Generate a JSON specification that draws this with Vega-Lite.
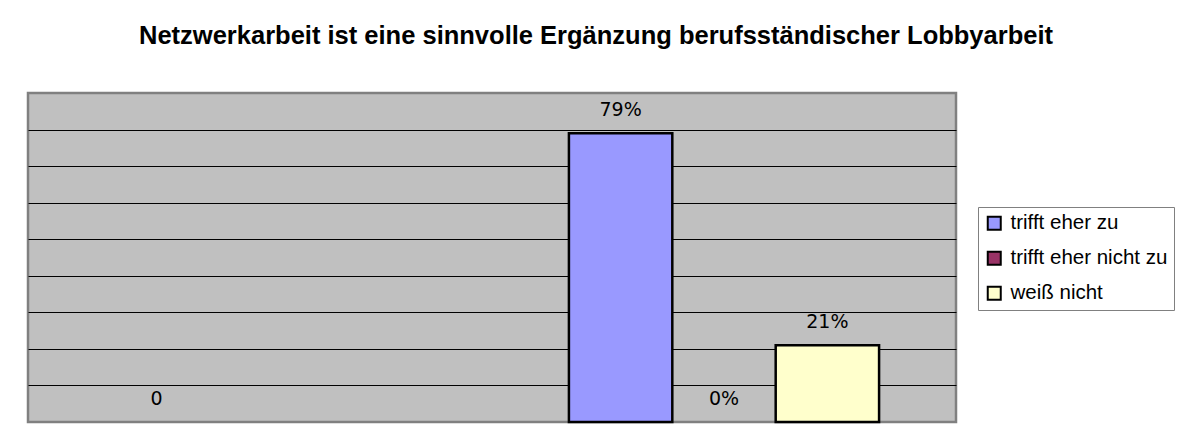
{
  "$schema": "https://vega.github.io/schema/vega-lite/v6.json",
  "autosize": "none",
  "width": 928,
  "height": 329,
  "padding": {"left": 28, "top": 93, "right": 230, "bottom": 18},
  "background": "white",
  "title": {
    "text": "Netzwerkarbeit ist eine sinnvolle Ergänzung berufsständischer Lobbyarbeit",
    "font": "Liberation Sans",
    "fontSize": 25.5,
    "fontWeight": "bold",
    "color": "black",
    "anchor": "middle",
    "frame": "group",
    "dx": 104,
    "baseline": "alphabetic",
    "offset": 24
  },
  "data": {
    "values": [
      {"kategorie": "1", "antwort": "trifft eher zu", "anteil": 0, "label": "0"},
      {"kategorie": "2", "antwort": "trifft eher zu", "anteil": 0.79, "label": "79%"},
      {"kategorie": "2", "antwort": "trifft eher nicht zu", "anteil": 0, "label": "0%"},
      {"kategorie": "2", "antwort": "weiß nicht", "anteil": 0.21, "label": "21%"}
    ]
  },
  "encoding": {
    "x": {"field": "kategorie", "type": "nominal", "axis": null,
          "scale": {"domain": ["1", "2"], "paddingInner": 0, "paddingOuter": 0}},
    "xOffset": {"field": "antwort", "type": "nominal",
                "scale": {"domain": ["trifft eher zu", "trifft eher nicht zu", "weiß nicht"], "paddingInner": 0, "paddingOuter": 0.744}},
    "y": {"field": "anteil", "type": "quantitative",
          "scale": {"domain": [0, 0.9], "nice": false, "zero": true},
          "axis": {"grid": true, "gridColor": "#000000", "gridWidth": 1, "domain": false, "ticks": false, "labels": false, "title": null,
                   "values": [0.1, 0.2, 0.3, 0.4, 0.5, 0.6, 0.7, 0.8]}}
  },
  "layer": [
    {
      "transform": [{"filter": "datum.anteil > 0"}],
      "mark": {"type": "bar", "stroke": "black", "strokeWidth": 2.5, "cornerRadius": 0},
      "encoding": {
        "color": {"field": "antwort", "type": "nominal",
                  "scale": {"domain": ["trifft eher zu", "trifft eher nicht zu", "weiß nicht"],
                            "range": ["#9999FF", "#993366", "#FFFFCC"]},
                  "legend": {"title": null}}
      }
    },
    {
      "mark": {"type": "text", "baseline": "alphabetic", "align": "center", "dy": -17,
               "font": "DejaVu Sans", "fontSize": 19, "color": "black"},
      "encoding": {"text": {"field": "label", "type": "nominal"}}
    }
  ],
  "config": {
    "view": {"fill": "#C0C0C0", "stroke": "#808080", "strokeWidth": 2.5},
    "legend": {
      "orient": "none",
      "legendX": 950,
      "legendY": 114,
      "padding": 6,
      "strokeColor": "#808080",
      "fillColor": "white",
      "cornerRadius": 0,
      "labelFont": "Liberation Sans",
      "labelFontSize": 20.5,
      "labelColor": "black",
      "labelLimit": 300,
      "labelOffset": 6,
      "symbolType": "square",
      "symbolSize": 169,
      "symbolStrokeColor": "black",
      "symbolStrokeWidth": 2,
      "symbolOpacity": 1,
      "rowPadding": 13
    }
  }
}
